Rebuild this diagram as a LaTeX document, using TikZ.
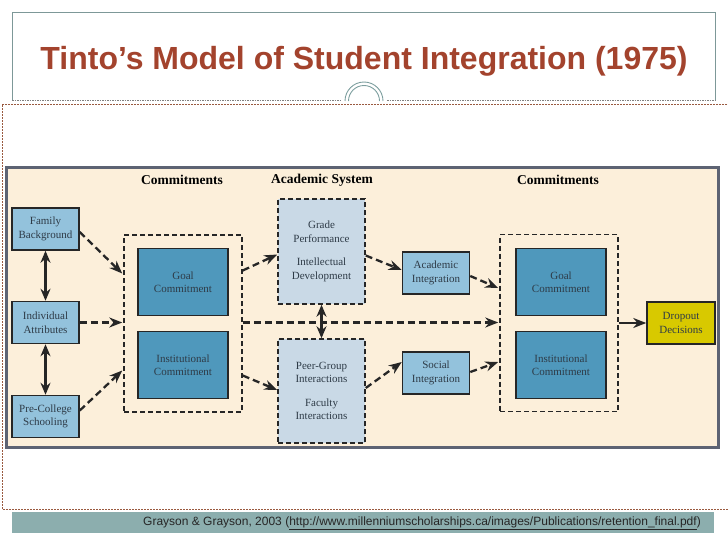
\documentclass[tikz,border=0pt]{standalone}
\usepackage{fontspec}
\setmainfont{Liberation Serif}
\newfontfamily\sansf{Liberation Sans}
\usetikzlibrary{arrows.meta}
\definecolor{titlec}{HTML}{A3432D}
\definecolor{cream}{HTML}{FCEFDA}
\definecolor{frameg}{HTML}{5D6373}
\definecolor{lightb}{HTML}{93C2DC}
\definecolor{darkb}{HTML}{4F98BC}
\definecolor{acadb}{HTML}{C9D9E6}
\definecolor{yel}{HTML}{D8C900}
\definecolor{txtc}{HTML}{2E3B47}
\definecolor{teal}{HTML}{8CAEAE}
\definecolor{arcc}{HTML}{7C9E9E}
\definecolor{brownd}{HTML}{9A5A40}
\definecolor{edgec}{HTML}{262626}
\begin{document}
\begin{tikzpicture}[x=1pt,y=-1pt,
  base/.style={draw=edgec,line width=1.5pt,align=center,text=txtc,font=\fontsize{11}{13.5}\selectfont,inner sep=0pt},
  lbox/.style={base,fill=lightb,minimum width=67pt,minimum height=42pt},
  dbox/.style={base,fill=darkb,minimum width=90pt,minimum height=67pt},
  abox/.style={base,fill=acadb,dash pattern=on 5pt off 3pt,minimum width=87pt},
  grp/.style={draw=edgec,line width=1.5pt,dash pattern=on 5pt off 3pt,minimum width=118pt,minimum height=177pt,inner sep=0pt},
  ybox/.style={base,fill=yel,minimum width=68pt,minimum height=42pt},
  hdr/.style={font=\fontsize{13.5}{16}\selectfont\bfseries,text=black},
  darr/.style={draw=edgec,line width=2.3pt,dash pattern=on 7pt off 4pt,-{Stealth[length=13pt,width=10pt]}},
  sarr/.style={draw=edgec,line width=2.3pt,-{Stealth[length=13pt,width=10pt]}},
  barr/.style={draw=edgec,line width=2.6pt,{Stealth[length=12pt,width=10pt]}-{Stealth[length=12pt,width=10pt]}}
]
\useasboundingbox (0,0) rectangle (728,546);
% title frame
\draw[arcc!80!gray,line width=0.7pt] (12,100) -- (12,12) -- (715,12) -- (715,100);
\draw[gray,line width=0.6pt,dash pattern=on 1.5pt off 1pt] (12,100) -- (341,100);
\draw[gray,line width=0.6pt,dash pattern=on 1.5pt off 1pt] (387,100) -- (715,100);
\draw[arcc,line width=0.9pt] (345,101) arc[start angle=180,end angle=360,radius=19];
\draw[arcc,line width=0.9pt] (348.5,101) arc[start angle=180,end angle=360,radius=15.5];
\node[font=\sansf\bfseries\fontsize{32}{36}\selectfont,text=titlec] (title) at (364,61) {Tinto’s Model of Student Integration (1975)};
% brown dashed frame
\draw[brownd,line width=0.6pt,dash pattern=on 2pt off 1pt] (730,104) -- (2,104) -- (2,509) -- (730,509);
% footer
\fill[teal] (12,512) rectangle (714,533);
\node[anchor=east,font=\sansf\fontsize{12}{14}\selectfont,text=black!85,inner sep=0pt] (cite) at (701,523) {Grayson \& Grayson, 2003 (\underline{http://www.millenniumscholarships.ca/images/Publications/retention\_final.pdf})};
% diagram background
\draw[frameg,fill=cream,line width=3pt] (6,167) rectangle (718,447);
% headers
\node[hdr] (h1) at (182,180) {Commitments};
\node[hdr] (h2) at (322,180) {Academic System};
\node[hdr] (h3) at (558,180) {Commitments};
% left column
\node[lbox] (fam) at (45.5,229) {Family\\Background};
\node[lbox] (ind) at (45.5,322.5) {Individual\\Attributes};
\node[lbox] (pre) at (45.5,416.5) {Pre-College\\Schooling};
% left commitments
\node[grp] (lgrp) at (183,323.5) {};
\node[dbox] (lgoal) at (183,282) {Goal\\Commitment};
\node[dbox] (linst) at (183,365) {Institutional\\Commitment};
% academic system
\node[abox,minimum height=105pt] (acad1) at (321.5,251.5) {Grade\\Performance\\[10pt]Intellectual\\Development};
\node[abox,minimum height=104pt] (acad2) at (321.5,391) {Peer-Group\\Interactions\\[10pt]Faculty\\Interactions};
% integration
\node[lbox] (ai) at (436,273) {Academic\\Integration};
\node[lbox] (si) at (436,373) {Social\\Integration};
% right commitments
\node[grp] (rgrp) at (559,323) {};
\node[dbox] (rgoal) at (561,282) {Goal\\Commitment};
\node[dbox] (rinst) at (561,365) {Institutional\\Commitment};
% dropout
\node[ybox] (drop) at (681,323) {Dropout\\Decisions};
% arrows
\draw[barr] (fam.south) -- (ind.north);
\draw[barr] (ind.south) -- (pre.north);
\draw[darr] ([yshift=-3pt]fam.east) -- ([yshift=50pt,xshift=-1pt]lgrp.west);
\draw[darr] (ind.east) -- ([xshift=-1pt]ind.east -| lgrp.west);
\draw[darr] ([yshift=6pt]pre.east) -- ([yshift=-47pt,xshift=-1pt]lgrp.west);
\draw[darr] ([yshift=53pt]lgrp.east) -- ([yshift=-3pt]acad1.west);
\draw[darr] ([yshift=-52pt]lgrp.east) -- ([yshift=1pt]acad2.west);
\draw[darr] ([yshift=1pt]lgrp.east) -- ([yshift=1pt,xshift=-1pt]lgrp.east -| rgrp.west);
\draw[barr] (acad1.south) -- (acad2.north);
\draw[darr] ([yshift=-4pt]acad1.east) -- ([yshift=3pt]ai.west);
\draw[darr] ([yshift=3pt]acad2.east) -- ([yshift=11pt]si.west);
\draw[darr] ([yshift=-3pt]ai.east) -- ([yshift=35pt,xshift=-1pt]rgrp.west);
\draw[darr] ([yshift=1pt]si.east) -- ([yshift=-39pt,xshift=-1pt]rgrp.west);
\draw[sarr] (rgrp.east) -- (drop.west);
\end{tikzpicture}
\end{document}
